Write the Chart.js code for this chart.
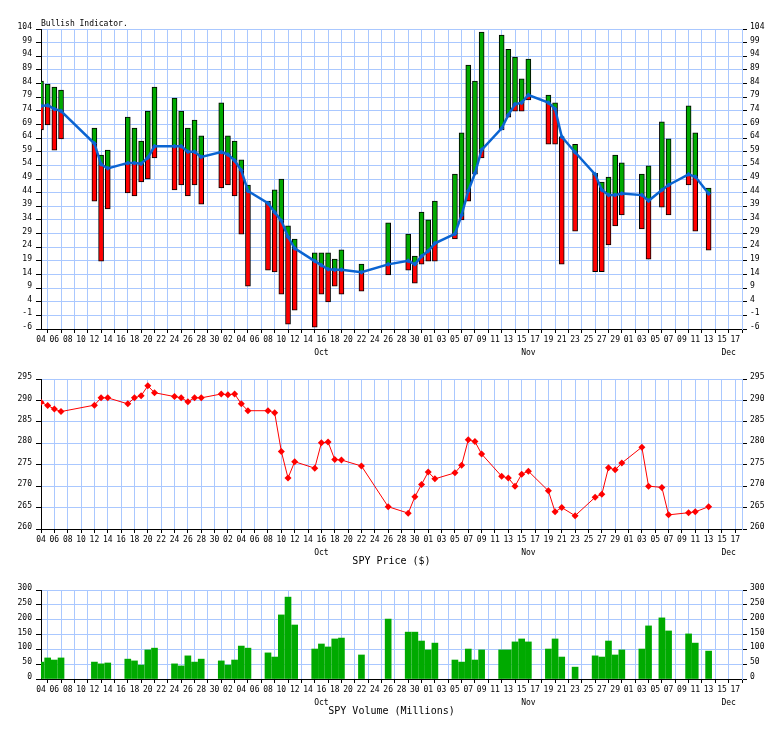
<!DOCTYPE html>
<html>
<head>
<meta charset="utf-8">
<script src="https://cdn.jsdelivr.net/npm/chart.js@4.4.1/dist/chart.umd.min.js"></script>
<style>
body { margin: 0; background: #fff; }
#wrap { position: relative; width: 784px; height: 729px; }
canvas { position: absolute; left: 0; }
</style>
</head>
<body>
<div id="wrap">
<canvas id="bullChart" width="784" height="362" style="top:0px"></canvas>
<canvas id="priceChart" width="784" height="205" style="top:362px"></canvas>
<canvas id="volChart" width="784" height="150" style="top:567px"></canvas>
</div>
<script>
// trading days shown on the chart
var dates = ['2018-09-04','2018-09-05','2018-09-06','2018-09-07','2018-09-12','2018-09-13','2018-09-14',
  '2018-09-17','2018-09-18','2018-09-19','2018-09-20','2018-09-21','2018-09-24','2018-09-25','2018-09-26',
  '2018-09-27','2018-09-28','2018-10-01','2018-10-02','2018-10-03','2018-10-04','2018-10-05','2018-10-08',
  '2018-10-09','2018-10-10','2018-10-11','2018-10-12','2018-10-15','2018-10-16','2018-10-17','2018-10-18',
  '2018-10-19','2018-10-22','2018-10-26','2018-10-29','2018-10-30','2018-10-31','2018-11-01','2018-11-02',
  '2018-11-05','2018-11-06','2018-11-07','2018-11-08','2018-11-09','2018-11-12','2018-11-13','2018-11-14',
  '2018-11-15','2018-11-16','2018-11-19','2018-11-20','2018-11-21','2018-11-23','2018-11-26','2018-11-27',
  '2018-11-28','2018-11-29','2018-11-30','2018-12-03','2018-12-04','2018-12-06','2018-12-07','2018-12-10',
  '2018-12-11','2018-12-13'];

// bullish indicator: bottom of bar, average line, top of bar
var bullLow = [67.0,68.8,59.6,63.7,40.9,18.9,38.0,43.9,42.8,47.9,49.0,56.7,45.0,46.8,42.8,46.8,39.8,
  45.7,46.8,42.8,28.8,9.7,15.6,14.9,6.8,-4.2,0.9,-5.3,6.8,3.9,9.7,6.8,7.9,13.8,15.6,10.8,17.8,18.9,18.9,
  27.0,34.0,40.9,50.8,56.7,67.0,71.7,73.9,73.9,78.0,61.8,61.8,17.8,29.9,15.0,15.0,24.8,31.8,35.8,30.7,
  19.6,38.7,35.8,46.8,29.9,22.9];
var bullAvg = [75.8,76.0,74.7,73.9,62.0,54.4,52.9,54.9,54.9,54.6,56.8,61.0,61.0,61.0,59.0,59.0,57.1,
  58.9,58.0,55.8,52.2,44.6,40.1,36.8,33.7,27.8,23.6,18.9,17.4,15.9,15.7,15.7,14.8,17.7,19.0,17.7,20.7,
  22.6,25.4,28.9,35.8,44.6,51.1,59.7,67.6,72.5,76.4,77.0,79.8,77.0,74.7,64.5,58.8,50.7,45.0,43.1,43.1,
  43.7,43.1,41.0,45.0,46.8,50.7,49.8,43.7];
var bullHigh = [84.9,83.8,82.7,81.6,67.7,57.8,59.6,71.7,67.7,62.9,73.9,82.7,78.7,73.9,67.7,70.6,64.8,
  76.9,64.8,62.9,56.0,46.8,40.9,45.0,49.0,31.8,27.0,21.9,21.9,21.9,19.6,23.0,17.8,32.9,28.8,20.7,36.9,
  34.0,40.9,50.8,65.9,90.8,84.9,102.9,101.8,96.5,93.7,85.7,93.0,79.8,76.9,64.5,61.7,51.1,47.9,49.7,57.8,
  54.9,50.8,53.8,70.0,63.7,75.8,65.9,45.7];

var spyPrice = [289.6,288.8,288.0,287.4,288.9,290.6,290.6,289.2,290.6,291.1,293.4,291.8,290.9,290.6,289.7,
  290.6,290.6,291.5,291.3,291.5,289.2,287.6,287.6,287.1,278.1,271.9,275.7,274.2,280.1,280.3,276.2,276.1,
  274.7,265.2,263.7,267.5,270.4,273.3,271.7,273.1,274.9,280.8,280.4,277.5,272.3,271.9,270.0,272.8,273.5,
  268.9,264.0,265.0,263.1,267.4,268.1,274.3,273.8,275.4,279.1,270.0,269.7,263.3,263.8,264.0,265.2];

var spyVolume = [57,71,64,71,57,51,54,67,61,47,98,104,51,44,78,57,67,61,47,64,111,104,88,74,216,276,182,
  101,118,108,135,138,81,202,158,158,128,98,121,64,57,101,64,98,98,98,125,135,125,101,135,74,40,78,74,
  128,81,98,101,179,206,162,152,121,94];

var bullTicks = [-6,-1,4,9,14,19,24,29,34,39,44,49,54,59,64,69,74,79,84,89,94,99,104];
var priceTicks = [260,265,270,275,280,285,290,295];
var volTicks = [0,50,100,150,200,250,300];
var monthTicks = [42, 73, 103];
var monthLabels = ['Oct', 'Nov', 'Dec'];

var gridColor = '#aac8ff';
var monoFont = 'DejaVu Sans Mono';

Chart.defaults.color = '#000';
Chart.defaults.font.family = monoFont;
Chart.defaults.font.size = 8;
Chart.defaults.animation = false;

function dayNum(s) {
  return Math.round((Date.parse(s) - Date.parse('2018-09-04')) / 86400000);
}

function dayLabel(v) {
  var n = new Date(Date.UTC(2018, 8, 4 + v)).getUTCDate();
  return (n < 10 ? '0' : '') + n;
}

function points(values) {
  var out = [];
  for (var i = 0; i < dates.length; i++) {
    out.push({ x: dayNum(dates[i]), y: values[i] });
  }
  return out;
}

function ranges(a, b) {
  var out = [];
  for (var i = 0; i < dates.length; i++) {
    out.push({ x: dayNum(dates[i]), y: [a[i], b[i]] });
  }
  return out;
}

function setTicks(list) {
  return function (axis) {
    axis.ticks = list.map(function (v) { return { value: v }; });
  };
}

function makeScales(yMin, yMax, yTicks, monthHeight) {
  var dayTicks = [];
  for (var v = 0; v <= 104; v += 2) dayTicks.push(v);
  return {
    x: {
      type: 'linear', axis: 'x', position: 'bottom', min: 0, max: 105, offset: false, weight: 0,
      afterBuildTicks: setTicks(dayTicks),
      afterFit: function (s) { s.height = 17; },
      grid: { color: gridColor, tickColor: '#000', tickLength: 4 },
      border: { color: '#000' },
      ticks: { autoSkip: false, maxRotation: 0, padding: 2, callback: function (v) { return dayLabel(v); } }
    },
    xm: {
      type: 'linear', axis: 'x', position: 'bottom', min: 0, max: 105, offset: false, weight: 1,
      afterBuildTicks: setTicks(monthTicks),
      afterFit: function (s) { s.height = monthHeight; },
      grid: { display: false, drawTicks: false, tickLength: 0 },
      border: { display: false },
      ticks: { autoSkip: false, maxRotation: 0, padding: 2,
        callback: function (v, i) { return monthLabels[i]; } }
    },
    y: {
      type: 'linear', position: 'left', min: yMin, max: yMax,
      afterBuildTicks: setTicks(yTicks),
      afterFit: function (s) { s.width = 41; },
      grid: { color: gridColor, tickColor: '#000', tickLength: 5 },
      border: { color: '#000' },
      ticks: { padding: 4, labelOffset: -2 }
    },
    y2: {
      type: 'linear', position: 'right', min: yMin, max: yMax,
      afterBuildTicks: setTicks(yTicks),
      afterFit: function (s) { s.width = 42; },
      grid: { drawOnChartArea: false, tickColor: '#000', tickLength: 5 },
      border: { color: gridColor },
      ticks: { padding: 3, labelOffset: -2 }
    }
  };
}

function bottomTitle(text) {
  return {
    display: true, text: text, position: 'bottom', align: 'center', fullSize: false,
    color: '#000', font: { family: monoFont, size: 10, weight: 'normal' }, padding: 0
  };
}

function createBullChart() {
  var ctx = document.getElementById('bullChart').getContext('2d');
  new Chart(ctx, {
    type: 'bar',
    data: {
      datasets: [{
        type: 'line',
        data: points(bullAvg),
        borderColor: '#0a64d2',
        borderWidth: 2.5,
        pointStyle: 'rectRot',
        pointRadius: 2.5,
        pointBackgroundColor: '#0a64d2',
        pointBorderWidth: 0,
        order: 0,
        xAxisID: 'x', yAxisID: 'y'
      }, {
        data: ranges(bullLow, bullAvg),
        backgroundColor: '#ff0000',
        borderColor: '#000',
        borderWidth: 1,
        borderSkipped: false,
        barThickness: 5,
        grouped: false,
        order: 2,
        xAxisID: 'x', yAxisID: 'y'
      }, {
        data: ranges(bullAvg, bullHigh),
        backgroundColor: '#00aa00',
        borderColor: '#000',
        borderWidth: 1,
        borderSkipped: false,
        barThickness: 5,
        grouped: false,
        order: 1,
        xAxisID: 'x', yAxisID: 'y'
      }]
    },
    options: {
      responsive: false,
      events: [],
      layout: { padding: 0 },
      scales: makeScales(-6, 104, bullTicks, 16),
      plugins: {
        legend: { display: false },
        tooltip: { enabled: false },
        title: {
          display: true, text: 'Bullish Indicator.', position: 'top', align: 'start', fullSize: false,
          color: '#000', font: { family: monoFont, size: 8, weight: 'normal' },
          padding: { top: 19, bottom: 0.4 }
        }
      }
    }
  });
}

function createPriceChart() {
  var ctx = document.getElementById('priceChart').getContext('2d');
  new Chart(ctx, {
    type: 'line',
    data: {
      datasets: [{
        data: points(spyPrice),
        borderColor: '#ff0000',
        borderWidth: 1,
        pointStyle: 'rectRot',
        pointRadius: 3.5,
        pointBackgroundColor: '#ff0000',
        pointBorderWidth: 0,
        xAxisID: 'x', yAxisID: 'y'
      }]
    },
    options: {
      responsive: false,
      events: [],
      layout: { padding: { top: 17 } },
      scales: makeScales(260, 295, priceTicks, 9),
      plugins: {
        legend: { display: false },
        tooltip: { enabled: false },
        title: bottomTitle('SPY Price ($)')
      }
    }
  });
}

function createVolChart() {
  var ctx = document.getElementById('volChart').getContext('2d');
  new Chart(ctx, {
    type: 'bar',
    data: {
      datasets: [{
        data: points(spyVolume),
        backgroundColor: '#00aa00',
        borderWidth: 0,
        barThickness: 6,
        xAxisID: 'x', yAxisID: 'y'
      }]
    },
    options: {
      responsive: false,
      events: [],
      layout: { padding: { top: 23 } },
      scales: makeScales(0, 300, volTicks, 9),
      plugins: {
        legend: { display: false },
        tooltip: { enabled: false },
        title: bottomTitle('SPY Volume (Millions)')
      }
    }
  });
}

createBullChart();
createPriceChart();
createVolChart();
</script>
</body>
</html>
